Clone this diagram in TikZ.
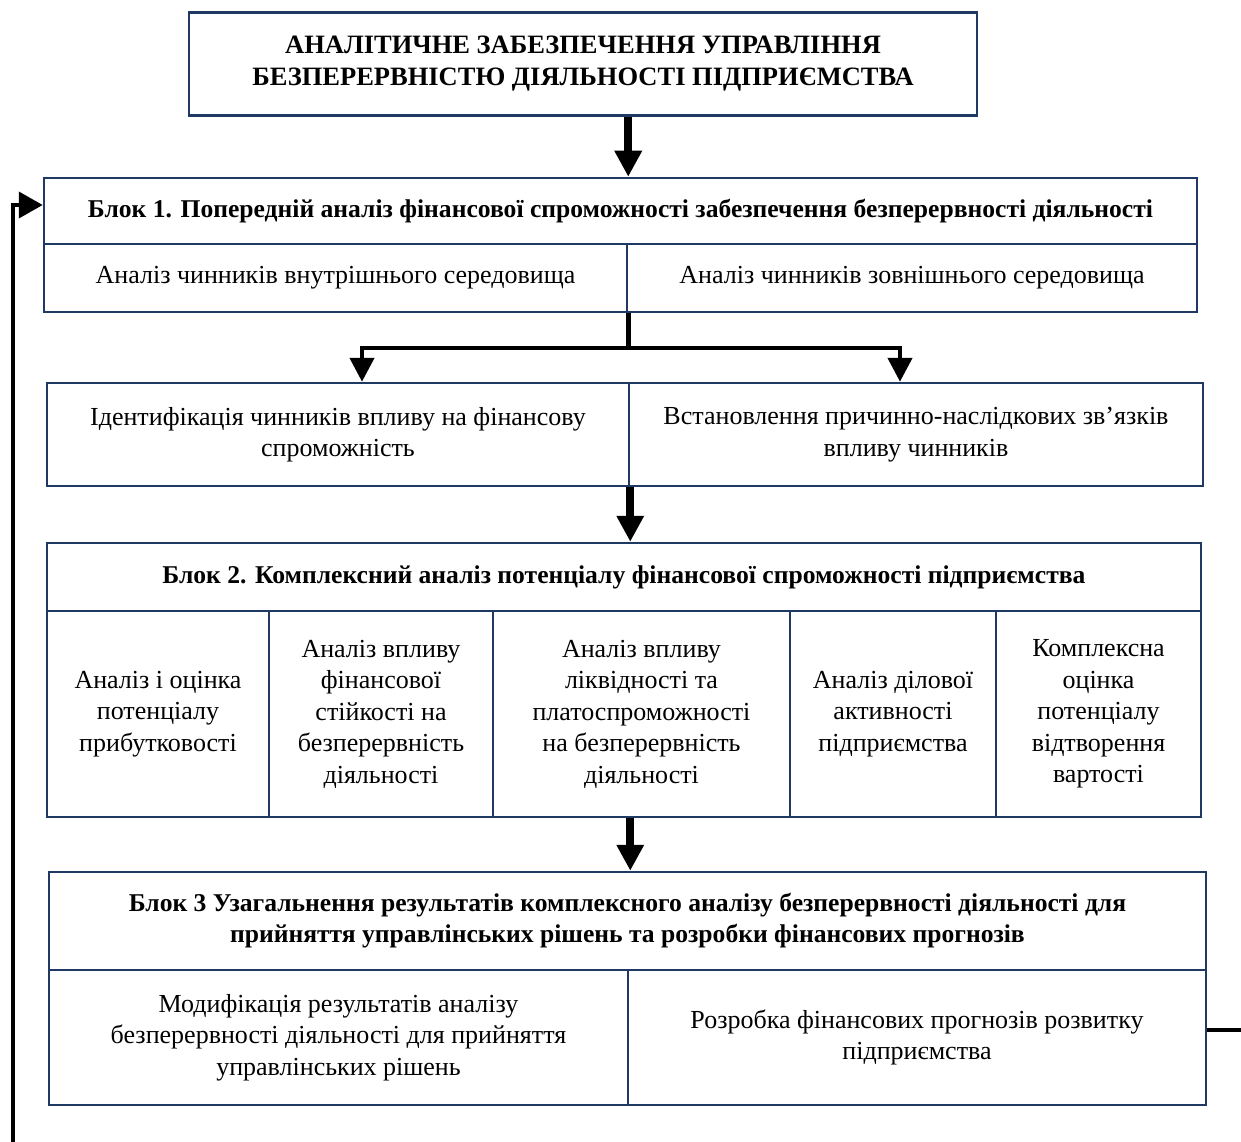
\documentclass[tikz,border=0pt]{standalone}
\usepackage{fontspec}
\setmainfont{Liberation Serif}
\usetikzlibrary{arrows.meta}
\definecolor{navy}{HTML}{1F3864}
\begin{document}
\begin{tikzpicture}[x=1pt,y=-1pt,
 box/.style={draw=navy, line width=2.5pt, rectangle, inner sep=0pt, align=center, font=\fontsize{26}{31.5}\selectfont},
 hbox/.style={box, font=\fontsize{25.6}{31}\selectfont\bfseries},
 tbox/.style={box, font=\fontsize{26.5}{32}\selectfont\bfseries},
 bigarrow/.style={line width=8pt, -{Triangle[length=26pt,width=26pt]}},
 midarrow/.style={line width=4.5pt, {Triangle[length=24pt,width=24pt]}-{Triangle[length=24pt,width=24pt]}},
 fbline/.style={line width=4pt}]
\useasboundingbox (0,0) rectangle (1241,1142);
\clip (0,0) rectangle (1241,1142);
% title
\node[tbox, minimum width=788pt, minimum height=103pt] (title) at (583,64)
 {АНАЛІТИЧНЕ ЗАБЕЗПЕЧЕННЯ УПРАВЛІННЯ\\БЕЗПЕРЕРВНІСТЮ ДІЯЛЬНОСТІ ПІДПРИЄМСТВА};
% block 1
\node[hbox, minimum width=1153pt, minimum height=66pt] (b1h) at (620.5,211)
 {Блок 1. Попередній аналіз фінансової спроможності забезпечення безперервності діяльності};
\node[box, minimum width=583pt, minimum height=68pt] (b1l) at (335.5,278)
 {Аналіз чинників внутрішнього середовища};
\node[box, minimum width=570pt, minimum height=68pt] (b1r) at (912,278)
 {Аналіз чинників зовнішнього середовища};
% row 3
\node[box, minimum width=582pt, minimum height=103pt] (r3l) at (338,434.5)
 {Ідентифікація чинників впливу на фінансову\\спроможність};
\node[box, minimum width=574pt, minimum height=103pt] (r3r) at (916,434.5)
 {Встановлення причинно-наслідкових зв’язків\\впливу чинників};
% block 2
\node[hbox, minimum width=1154pt, minimum height=68pt] (b2h) at (624,577)
 {Блок 2. Комплексний аналіз потенціалу фінансової спроможності підприємства};
\node[box, minimum width=222pt, minimum height=206pt] (c1) at (158,714)
 {Аналіз і оцінка\\потенціалу\\прибутковості};
\node[box, minimum width=224pt, minimum height=206pt] (c2) at (381,714)
 {Аналіз впливу\\фінансової\\стійкості на\\безперервність\\діяльності};
\node[box, minimum width=297pt, minimum height=206pt] (c3) at (641.5,714)
 {Аналіз впливу\\ліквідності та\\платоспроможності\\на безперервність\\діяльності};
\node[box, minimum width=206pt, minimum height=206pt] (c4) at (893,714)
 {Аналіз ділової\\активності\\підприємства};
\node[box, minimum width=205pt, minimum height=206pt] (c5) at (1098.5,714)
 {Комплексна\\оцінка\\потенціалу\\відтворення\\вартості};
% block 3
\node[hbox, minimum width=1157pt, minimum height=98pt] (b3h) at (627.5,921)
 {Блок 3 Узагальнення результатів комплексного аналізу безперервності діяльності для\\прийняття управлінських рішень та розробки фінансових прогнозів};
\node[box, minimum width=579pt, minimum height=135pt] (b3l) at (338.5,1037.5)
 {Модифікація результатів аналізу\\безперервності діяльності для прийняття\\управлінських рішень};
\node[box, minimum width=578pt, minimum height=135pt] (b3r) at (917,1037.5)
 {Розробка фінансових прогнозів розвитку\\підприємства};
% connectors
\draw[bigarrow] (title.south -| b1l.east) -- (b1h.north -| b1l.east);
\coordinate (jl) at (362,348);
\coordinate (jr) at (900,348);
\draw[line width=4.5pt] (b1l.south east) -- (b1l.south east |- jl);
\draw[midarrow] (jl |- r3l.north) -- (jl) -- (jr) -- (jr |- r3r.north);
\draw[bigarrow] (r3l.south east) -- (b2h.north -| r3l.south east);
\draw[bigarrow] (c3.south -| r3l.east) -- (b3h.north -| r3l.east);
% feedback
\coordinate (fo) at (1241,1030);
\draw[fbline] (b3r.east |- fo) -- (fo);
\coordinate (fbot) at (13,1142);
\coordinate (ftop) at (13,205);
\draw[fbline, -{Triangle[length=24pt,width=26pt]}] (fbot) -- (ftop) -- (ftop -| b1h.west);
\end{tikzpicture}
\end{document}
